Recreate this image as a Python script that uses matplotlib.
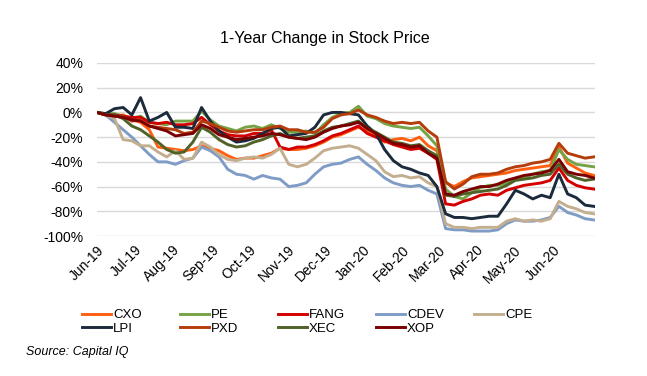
import matplotlib
matplotlib.use("Agg")
import matplotlib.pyplot as plt
import matplotlib.dates as mdates
import pandas as pd

plt.rcParams['font.family'] = ['Liberation Sans', 'DejaVu Sans']

# weekly observation dates
dates = pd.date_range('2019-06-01', periods=58, freq='7D')
tick_dates = pd.date_range('2019-06-01', '2020-06-01', freq='MS')

# % change vs. start
CXO = [0, -2, -3, -2, -6, -8, -14, -28, -29, -30, -31, -30, -27, -29, -31, -35, -38, -37, -37, -35,
       -33, -29, -30, -30, -29, -27, -24, -20, -18, -15, -12, -15, -19, -24, -22, -21, -23, -20, -27, -31,
       -57, -60, -56, -53, -52, -51, -50, -49, -47, -46, -45, -44, -43, -28, -41, -45, -49, -51]
PE = [0, -1, -1, -3, -5, -3, -8, -9, -10, -7, -7, -7, 1, -6, -11, -13, -15, -12, -11, -13,
      -10, -13, -16, -16, -15, -17, -10, -4, -1, 0, 5, -3, -5, -9, -11, -12, -13, -12, -19, -27,
      -62, -68, -70, -65, -61, -59, -59, -57, -54, -53, -50, -48, -47, -30, -38, -42, -43, -44]
FANG = [0, -2, -2, -3, -4, -4, -8, -9, -8, -10, -10, -9, -4, -10, -15, -18, -19, -19, -17, -17,
        -14, -28, -30, -28, -28, -26, -23, -19, -17, -14, -11, -17, -20, -23, -26, -28, -30, -29, -33, -38,
        -74, -75, -72, -70, -67, -66, -67, -63, -61, -59, -58, -57, -55, -45, -55, -59, -61, -62]
CDEV = [0, -2, -8, -14, -20, -27, -34, -40, -40, -42, -39, -37, -28, -31, -36, -46, -50, -51, -54, -51,
        -53, -54, -60, -59, -57, -50, -44, -42, -41, -38, -36, -42, -47, -53, -57, -59, -60, -59, -63, -66,
        -94, -95, -95, -96, -96, -96, -95, -90, -87, -88, -88, -87, -85, -76, -81, -83, -86, -87]
CPE = [0, -2, -5, -22, -23, -27, -27, -32, -36, -31, -38, -37, -24, -28, -34, -38, -39, -37, -36, -37,
       -34, -29, -42, -44, -42, -37, -31, -29, -28, -27, -29, -34, -39, -48, -52, -51, -53, -52, -57, -60,
       -90, -93, -93, -94, -93, -93, -93, -88, -86, -88, -87, -88, -86, -72, -76, -78, -81, -82]
LPI = [0, -1, 3, 4, -2, 12, -7, -4, 0, -12, -12, -13, 4, -7, -15, -20, -24, -23, -21, -17,
       -13, -12, -19, -18, -17, -12, -2, 0, 0, -1, -2, -11, -17, -30, -39, -44, -46, -49, -51, -60,
       -82, -85, -85, -86, -85, -84, -84, -74, -63, -66, -70, -67, -69, -50, -66, -69, -75, -76]
PXD = [0, -2, -3, -3, -7, -6, -11, -12, -13, -14, -17, -16, -7, -9, -12, -15, -16, -15, -14, -14,
       -12, -11, -14, -14, -16, -16, -12, -5, -2, -1, 2, -2, -4, -7, -9, -8, -9, -8, -15, -20,
       -56, -62, -58, -52, -50, -50, -49, -46, -44, -43, -41, -40, -38, -25, -33, -35, -37, -36]
XEC = [0, -2, -2, -5, -11, -14, -19, -24, -30, -33, -32, -24, -12, -16, -22, -26, -28, -27, -24, -22,
       -19, -17, -20, -21, -20, -19, -15, -12, -11, -9, -7, -13, -16, -20, -24, -25, -27, -26, -31, -35,
       -67, -68, -66, -65, -64, -63, -62, -59, -55, -54, -53, -51, -50, -42, -50, -53, -55, -54]
XOP = [0, -2, -3, -4, -6, -7, -11, -13, -15, -19, -18, -17, -10, -13, -18, -20, -22, -21, -20, -19,
       -17, -18, -20, -21, -22, -20, -16, -13, -11, -10, -8, -13, -17, -21, -25, -26, -28, -27, -33, -37,
       -66, -67, -64, -62, -60, -60, -58, -55, -53, -51, -50, -49, -47, -38, -48, -50, -51, -53]

names = ['CXO', 'PE', 'FANG', 'CDEV', 'CPE', 'LPI', 'PXD', 'XEC', 'XOP']
series = [CXO, PE, FANG, CDEV, CPE, LPI, PXD, XEC, XOP]
colors = ['#FF5F0F', '#77A347', '#D40000', '#7F9CC6', '#C4AE90',
          '#1B2B3C', '#B53D0C', '#4F6228', '#7A0000']

yticks = [-100, -80, -60, -40, -20, 0, 20, 40]

fig = plt.figure(figsize=(6.47, 3.76), dpi=100)
ax = fig.add_axes([97/647, 1-236/376, 498/647, 173/376])

handles = {}
for name, vals, c in zip(names, series, colors):
    ln, = ax.plot(dates, vals, color=c, lw=2.1, solid_joinstyle='round')
    handles[name] = ln

ax.set_ylim(-100, 40)
ax.set_yticks(yticks)
ax.set_yticklabels([f"{v}%" for v in yticks])
ax.set_xlim(pd.Timestamp('2019-06-01'), pd.Timestamp('2020-07-05'))
ax.set_xticks(tick_dates)
ax.xaxis.set_major_formatter(mdates.DateFormatter('%b-%y'))
ax.grid(axis='y', color='#D9D9D9', lw=1)
ax.set_axisbelow(True)
for s in ax.spines.values():
    s.set_visible(False)
ax.tick_params(axis='both', length=0, labelsize=10, colors='black')
ax.tick_params(axis='y', pad=10)
ax.tick_params(axis='x', pad=5)
for lab in ax.get_xticklabels():
    lab.set_rotation(45)
    lab.set_ha('right')
    lab.set_rotation_mode('anchor')

fig.text(325/647, 1-38/376, '1-Year Change in Stock Price', ha='center', va='center', fontsize=11.5)

cols = [['CXO', 'LPI'], ['PE', 'PXD'], ['FANG', 'XEC'], ['CDEV', 'XOP'], ['CPE']]
for i, col in enumerate(cols):
    fig.legend([handles[n] for n in col], col, loc='upper left',
               bbox_to_anchor=((82 + 98*i)/647, 1-309/376), frameon=False,
               fontsize=9.5, handlelength=2.2, handletextpad=0.15, labelspacing=0.12,
               borderpad=0, borderaxespad=0)

fig.text(26/647, 1-352/376, 'Source: Capital IQ', style='italic', fontsize=9, ha='left', va='center')

fig.savefig('out.png', dpi=100)
